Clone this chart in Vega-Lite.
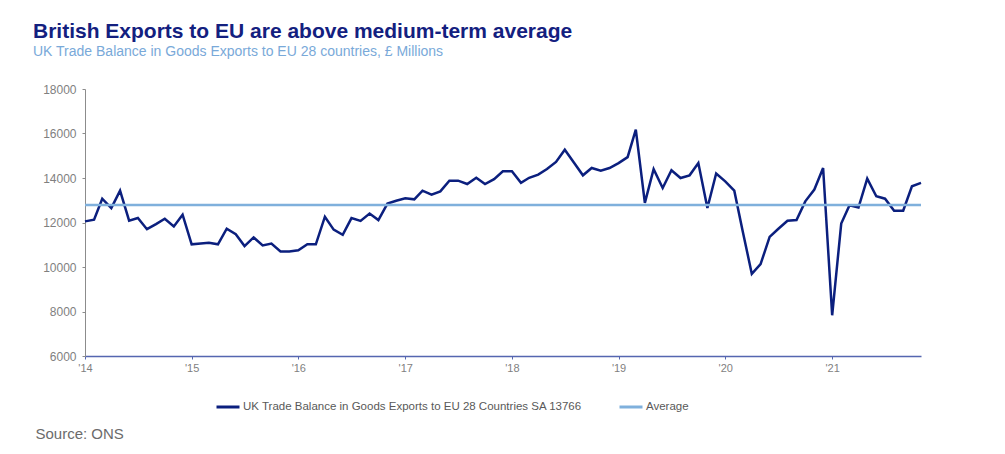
{
  "$schema": "https://vega.github.io/schema/vega-lite/v6.json",
  "autosize": {"type": "none"},
  "width": 836,
  "height": 267,
  "padding": {"left": 85, "top": 89, "right": 84, "bottom": 98},
  "background": "white",
  "title": {
    "text": "British Exports to EU are above medium-term average",
    "subtitle": "UK Trade Balance in Goods Exports to EU 28 countries, £ Millions",
    "anchor": "start",
    "frame": "group",
    "dx": -52,
    "offset": 24,
    "font": "Liberation Sans",
    "fontSize": 21,
    "fontWeight": "bold",
    "color": "#13207f",
    "subtitleFont": "Liberation Sans",
    "subtitleFontSize": 14,
    "subtitleColor": "#79a9d9",
    "subtitlePadding": 3
  },
  "data": {
    "values": [
      {"date": "2014-01-01", "exports": 12050, "average": 12787},
      {"date": "2014-02-01", "exports": 12130, "average": 12787},
      {"date": "2014-03-01", "exports": 13070, "average": 12787},
      {"date": "2014-04-01", "exports": 12650, "average": 12787},
      {"date": "2014-05-01", "exports": 13430, "average": 12787},
      {"date": "2014-06-01", "exports": 12080, "average": 12787},
      {"date": "2014-07-01", "exports": 12200, "average": 12787},
      {"date": "2014-08-01", "exports": 11700, "average": 12787},
      {"date": "2014-09-01", "exports": 11930, "average": 12787},
      {"date": "2014-10-01", "exports": 12170, "average": 12787},
      {"date": "2014-11-01", "exports": 11820, "average": 12787},
      {"date": "2014-12-01", "exports": 12350, "average": 12787},
      {"date": "2015-01-01", "exports": 11020, "average": 12787},
      {"date": "2015-02-01", "exports": 11060, "average": 12787},
      {"date": "2015-03-01", "exports": 11090, "average": 12787},
      {"date": "2015-04-01", "exports": 11020, "average": 12787},
      {"date": "2015-05-01", "exports": 11720, "average": 12787},
      {"date": "2015-06-01", "exports": 11470, "average": 12787},
      {"date": "2015-07-01", "exports": 10940, "average": 12787},
      {"date": "2015-08-01", "exports": 11330, "average": 12787},
      {"date": "2015-09-01", "exports": 10970, "average": 12787},
      {"date": "2015-10-01", "exports": 11050, "average": 12787},
      {"date": "2015-11-01", "exports": 10700, "average": 12787},
      {"date": "2015-12-01", "exports": 10700, "average": 12787},
      {"date": "2016-01-01", "exports": 10750, "average": 12787},
      {"date": "2016-02-01", "exports": 11020, "average": 12787},
      {"date": "2016-03-01", "exports": 11020, "average": 12787},
      {"date": "2016-04-01", "exports": 12260, "average": 12787},
      {"date": "2016-05-01", "exports": 11680, "average": 12787},
      {"date": "2016-06-01", "exports": 11450, "average": 12787},
      {"date": "2016-07-01", "exports": 12200, "average": 12787},
      {"date": "2016-08-01", "exports": 12070, "average": 12787},
      {"date": "2016-09-01", "exports": 12400, "average": 12787},
      {"date": "2016-10-01", "exports": 12110, "average": 12787},
      {"date": "2016-11-01", "exports": 12850, "average": 12787},
      {"date": "2016-12-01", "exports": 12980, "average": 12787},
      {"date": "2017-01-01", "exports": 13090, "average": 12787},
      {"date": "2017-02-01", "exports": 13040, "average": 12787},
      {"date": "2017-03-01", "exports": 13430, "average": 12787},
      {"date": "2017-04-01", "exports": 13250, "average": 12787},
      {"date": "2017-05-01", "exports": 13400, "average": 12787},
      {"date": "2017-06-01", "exports": 13880, "average": 12787},
      {"date": "2017-07-01", "exports": 13880, "average": 12787},
      {"date": "2017-08-01", "exports": 13730, "average": 12787},
      {"date": "2017-09-01", "exports": 14010, "average": 12787},
      {"date": "2017-10-01", "exports": 13730, "average": 12787},
      {"date": "2017-11-01", "exports": 13950, "average": 12787},
      {"date": "2017-12-01", "exports": 14300, "average": 12787},
      {"date": "2018-01-01", "exports": 14300, "average": 12787},
      {"date": "2018-02-01", "exports": 13780, "average": 12787},
      {"date": "2018-03-01", "exports": 14010, "average": 12787},
      {"date": "2018-04-01", "exports": 14150, "average": 12787},
      {"date": "2018-05-01", "exports": 14400, "average": 12787},
      {"date": "2018-06-01", "exports": 14720, "average": 12787},
      {"date": "2018-07-01", "exports": 15270, "average": 12787},
      {"date": "2018-08-01", "exports": 14700, "average": 12787},
      {"date": "2018-09-01", "exports": 14120, "average": 12787},
      {"date": "2018-10-01", "exports": 14450, "average": 12787},
      {"date": "2018-11-01", "exports": 14330, "average": 12787},
      {"date": "2018-12-01", "exports": 14450, "average": 12787},
      {"date": "2019-01-01", "exports": 14670, "average": 12787},
      {"date": "2019-02-01", "exports": 14940, "average": 12787},
      {"date": "2019-03-01", "exports": 16170, "average": 12787},
      {"date": "2019-04-01", "exports": 12880, "average": 12787},
      {"date": "2019-05-01", "exports": 14400, "average": 12787},
      {"date": "2019-06-01", "exports": 13550, "average": 12787},
      {"date": "2019-07-01", "exports": 14350, "average": 12787},
      {"date": "2019-08-01", "exports": 14000, "average": 12787},
      {"date": "2019-09-01", "exports": 14120, "average": 12787},
      {"date": "2019-10-01", "exports": 14670, "average": 12787},
      {"date": "2019-11-01", "exports": 12650, "average": 12787},
      {"date": "2019-12-01", "exports": 14200, "average": 12787},
      {"date": "2020-01-01", "exports": 13850, "average": 12787},
      {"date": "2020-02-01", "exports": 13430, "average": 12787},
      {"date": "2020-03-01", "exports": 11600, "average": 12787},
      {"date": "2020-04-01", "exports": 9690, "average": 12787},
      {"date": "2020-05-01", "exports": 10130, "average": 12787},
      {"date": "2020-06-01", "exports": 11350, "average": 12787},
      {"date": "2020-07-01", "exports": 11720, "average": 12787},
      {"date": "2020-08-01", "exports": 12080, "average": 12787},
      {"date": "2020-09-01", "exports": 12110, "average": 12787},
      {"date": "2020-10-01", "exports": 12950, "average": 12787},
      {"date": "2020-11-01", "exports": 13480, "average": 12787},
      {"date": "2020-12-01", "exports": 14450, "average": 12787},
      {"date": "2021-01-01", "exports": 7830, "average": 12787},
      {"date": "2021-02-01", "exports": 11950, "average": 12787},
      {"date": "2021-03-01", "exports": 12770, "average": 12787},
      {"date": "2021-04-01", "exports": 12670, "average": 12787},
      {"date": "2021-05-01", "exports": 13970, "average": 12787},
      {"date": "2021-06-01", "exports": 13180, "average": 12787},
      {"date": "2021-07-01", "exports": 13070, "average": 12787},
      {"date": "2021-08-01", "exports": 12530, "average": 12787},
      {"date": "2021-09-01", "exports": 12530, "average": 12787},
      {"date": "2021-10-01", "exports": 13630, "average": 12787},
      {"date": "2021-11-01", "exports": 13780, "average": 12787}
    ]
  },
  "encoding": {
    "x": {
      "field": "date",
      "type": "temporal",
      "scale": {"type": "utc", "domain": ["2014-01-01", "2021-11-01"], "nice": false},
      "axis": {
        "title": "Source: ONS",
        "titleX": -50,
        "titleY": 82,
        "titleAlign": "left",
        "titleAnchor": "start",
        "titleBaseline": "alphabetic",
        "titleFont": "Liberation Sans",
        "titleFontSize": 15,
        "titleFontWeight": "normal",
        "titleColor": "#6b6b6b",
        "format": "'%y",
        "tickCount": {"interval": "year", "step": 1},
        "labelFont": "Liberation Sans",
        "labelFontSize": 11,
        "labelColor": "#7f7f7f",
        "labelPadding": 3,
        "labelFlush": false,
        "domainColor": "#5566b0",
        "domainWidth": 1.5,
        "tickColor": "#5566b0",
        "tickSize": 3,
        "grid": false
      }
    }
  },
  "layer": [
    {
      "mark": {"type": "line", "strokeWidth": 2.5, "strokeJoin": "miter"},
      "encoding": {
        "y": {
          "field": "exports",
          "type": "quantitative",
          "scale": {"domain": [6000, 18000], "nice": false, "zero": false},
          "axis": {
            "title": null,
            "values": [6000, 8000, 10000, 12000, 14000, 16000, 18000],
            "format": "d",
            "labelFont": "Liberation Sans",
            "labelFontSize": 12,
            "labelColor": "#7f7f7f",
            "labelPadding": 6,
            "domainColor": "#8c8c8c",
            "tickColor": "#8c8c8c",
            "tickSize": 3,
            "grid": false
          }
        },
        "color": {
          "datum": "UK Trade Balance in Goods Exports to EU 28 Countries SA 13766",
          "type": "nominal",
          "scale": {
            "domain": ["UK Trade Balance in Goods Exports to EU 28 Countries SA 13766", "Average"],
            "range": ["#0b1f7e", "#7fb0dc"]
          },
          "legend": {
            "title": null,
            "orient": "none",
            "legendX": 130,
            "legendY": 305,
            "direction": "horizontal",
            "symbolType": "stroke",
            "symbolSize": 529,
            "symbolStrokeWidth": 3,
            "labelFont": "Liberation Sans",
            "labelFontSize": 11.5,
            "labelColor": "#595959",
            "labelOffset": 2,
            "columnPadding": 30,
            "labelLimit": 500
          }
        }
      }
    },
    {
      "mark": {"type": "line", "strokeWidth": 2.5},
      "encoding": {
        "y": {"field": "average", "type": "quantitative"},
        "color": {"datum": "Average", "type": "nominal"}
      }
    }
  ],
  "config": {
    "view": {"stroke": null}
  }
}
